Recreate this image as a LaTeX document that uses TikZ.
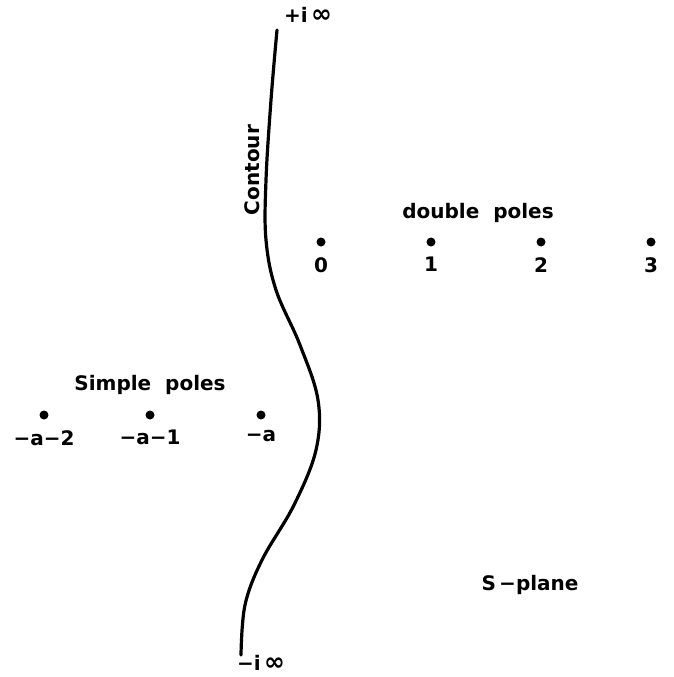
\documentclass[tikz,border=0pt]{standalone}
\usepackage{fontspec}
\setmainfont{DejaVu Sans}
\begin{document}
\begin{tikzpicture}[
        x=1pt, y=-1pt,
        pole/.style={circle, fill=black, inner sep=0pt, minimum size=9pt},
        polelbl/.style={font=\fontsize{20}{23}\selectfont\bfseries, anchor=north, inner sep=1pt},
        grplbl/.style={font=\fontsize{20}{23}\selectfont\bfseries, inner sep=1pt},
        contour/.style={line width=3.2pt, line cap=round}
      ]
      \useasboundingbox (0,0) rectangle (673,677);
      % double poles
      \foreach \x/\lbl/\nm in {321/0/d0, 431/1/d1, 541/2/d2, 651/3/d3}{
        \node[pole] (\nm) at (\x,242) {};
        \node[polelbl] (\nm l) at (\x,256) {\lbl};
      }
      \node[grplbl] (dbl) at (478,213) {double\ \ poles};
      % simple poles
      \foreach \x/\lbl/\nm in {44/−a−2/s2, 150/−a−1/s1, 261/−a/s0}{
        \node[pole] (\nm) at (\x,415) {};
        \node[polelbl] (\nm l) at (\x,429) {\lbl};
      }
      \node[grplbl] (smp) at (150,385) {Simple\ \ poles};
      % contour
      \coordinate (top) at (277,30);
      \coordinate (bot) at (241,655);
      \draw[contour] plot[smooth, tension=0.6] coordinates {
        (top) (271,100) (266,180) (266,240) (276,290) (300,345) (318,400)
        (316,450) (294,505) (262,560) (245,605) (bot)};
      \node[grplbl, rotate=90] (cnt) at (252,170) {Contour};
      \node[grplbl] (pinf) at (308,15) {+i\,{\fontsize{25}{25}\selectfont ∞}};
      \node[grplbl] (minf) at (261,663) {−i\,{\fontsize{25}{25}\selectfont ∞}};
      \node[grplbl] (spl) at (530,585) {S\,−plane};
    \end{tikzpicture}
\end{document}
